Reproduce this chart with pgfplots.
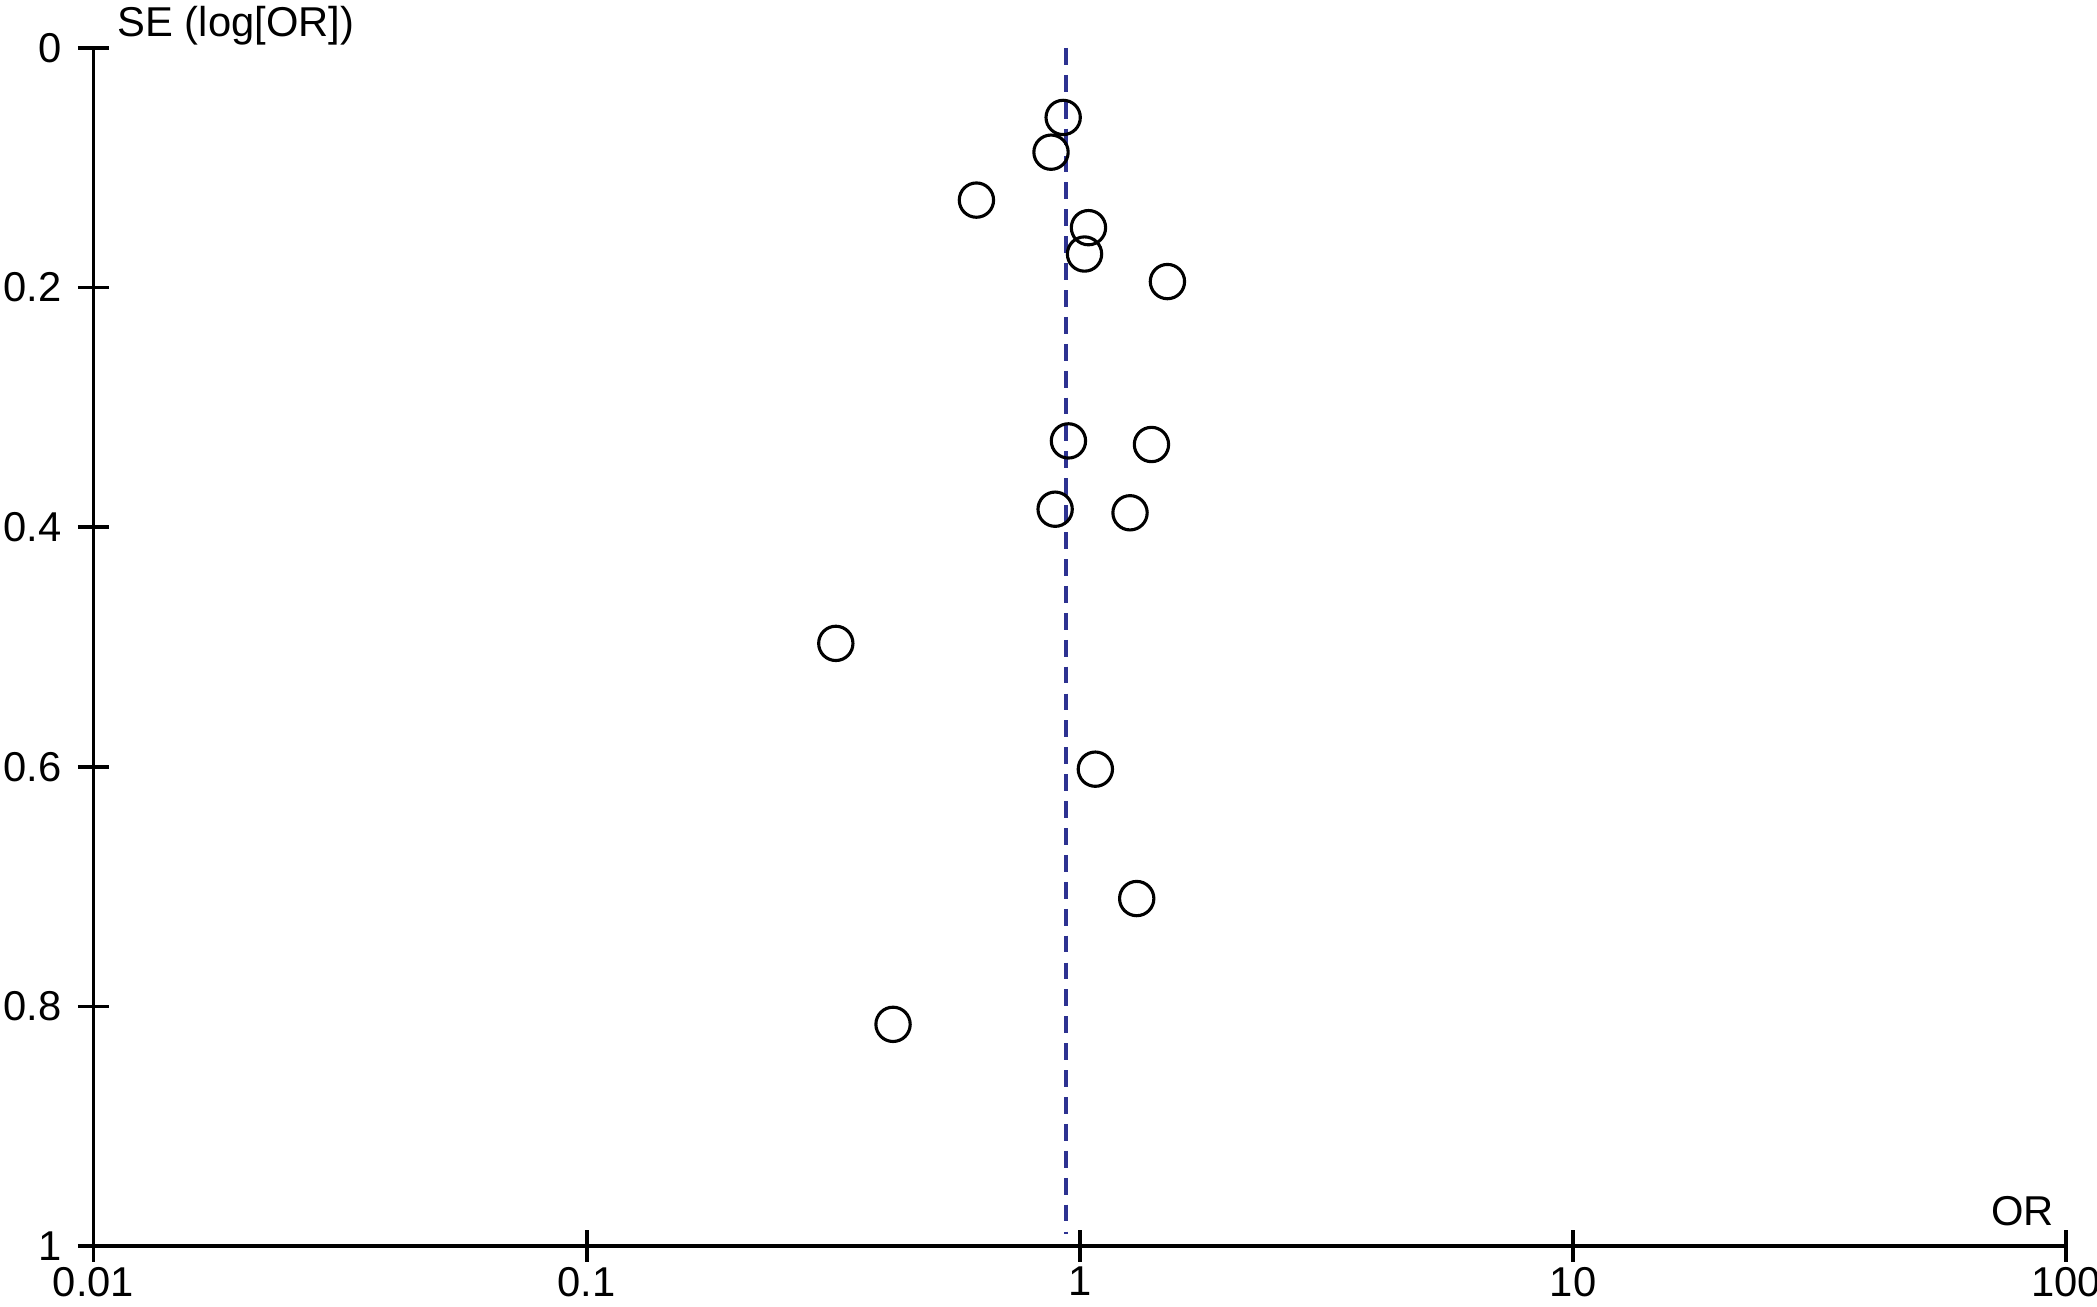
\documentclass[border=0pt]{standalone}
\usepackage{fontspec}
\setmainfont{Liberation Sans}
\usepackage{pgfplots}
\pgfplotsset{compat=1.18}
\definecolor{refline}{RGB}{45,50,145}

\begin{document}
\fontsize{10.7}{12.8}\selectfont
\begin{tikzpicture}
\begin{axis}[
    scale only axis,
    width=506pt,
    height=307.3pt,
    xmode=log,
    xmin=0.01, xmax=100,
    ymin=0, ymax=1,
    y dir=reverse,
    axis lines=left,
    axis line style={line width=0.95pt, -},
    xtick={0.01,0.1,1,10,100},
    xticklabels={0.01,0.1,1,10,100},
    ytick={0,0.2,0.4,0.6,0.8,1},
    yticklabels={0,0.2,0.4,0.6,0.8,1},
    xminorticks=false,
    tick align=center,
    major tick length=8pt,
    tick style={line width=0.95pt, black},
    xticklabel style={yshift=2.4pt},
    yticklabel style={xshift=-0.5pt},
    /pgf/number format/assume math mode=true,
    ylabel={SE (log[OR])},
    ylabel style={rotate=-90, at={(axis description cs:0,1)}, anchor=south west,
        inner sep=0pt, xshift=6pt, yshift=0.5pt},
    xlabel={OR},
    xlabel style={at={(axis description cs:1,0)}, anchor=south east,
        inner sep=0pt, xshift=-3pt, yshift=5pt},
    clip=false,
]
\addplot[refline, line width=1pt, dash pattern=on 4.3pt off 2.6pt]
    coordinates {(0.937,0) (0.937,0.99)};
\addplot[only marks, mark=o, mark size=4.4pt, mark options={line width=0.8pt, black}]
    coordinates {
    (0.925,0.058) (0.874,0.087) (0.617,0.127) (1.041,0.150)
    (1.022,0.172) (1.505,0.195) (0.948,0.328) (1.397,0.331)
    (0.891,0.385) (1.264,0.388) (0.320,0.497) (1.075,0.602)
    (1.304,0.710) (0.418,0.815)
    };
\end{axis}
\pgfresetboundingbox
\path[use as bounding box] ([xshift=-24pt,yshift=-15.4pt]current axis.south west)
    rectangle ([xshift=7.9pt,yshift=12.3pt]current axis.north east);
\end{tikzpicture}
\end{document}
